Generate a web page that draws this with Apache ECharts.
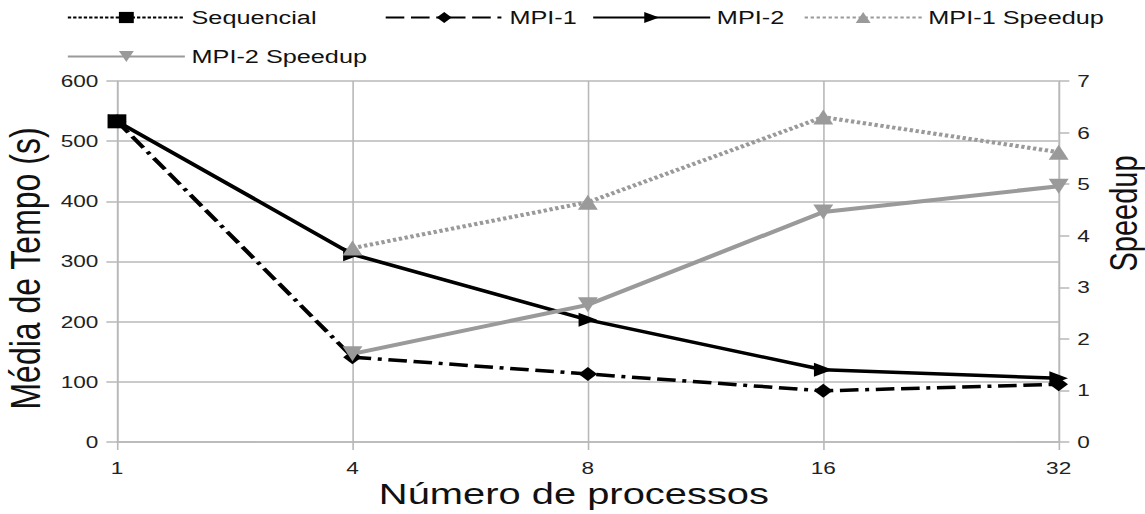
<!DOCTYPE html>
<html><head><meta charset="utf-8">
<script src="https://cdn.jsdelivr.net/npm/echarts@6/dist/echarts.min.js"></script>
<style>
html,body{margin:0;padding:0;background:#fff;overflow:hidden;width:1145px;height:514px}
#c{width:861px;height:514px;transform:scaleX(1.33);transform-origin:0 0}
</style>
</head><body><div id="c"></div>
<script>
const categories = ['1', '4', '8', '16', '32'];
const sequencial = [533, null, null, null, null];
const mpi1 = [533, 141, 113, 85, 96];
const mpi2 = [533, 312, 203, 120, 106];
const mpi1Speedup = [null, 3.76, 4.65, 6.30, 5.62];
const mpi2Speedup = [null, 1.71, 2.66, 4.46, 4.96];
const timeTicks = [0, 600, 100];
const speedupTicks = [0, 7, 1];

const font = 'Liberation Sans, Arial, sans-serif';
const gridColor = '#b8b8b8';
const gray = '#9a9a9a';

const chart = echarts.init(document.getElementById('c'), null, {renderer: 'svg'});
function lg(name, left, top) {
  return {data: [name], left: left, top: top, itemWidth: 88, itemHeight: 14, itemGap: 0,
    textStyle: {fontFamily: font, fontSize: 19, color: '#111'}, padding: 0};
}
chart.setOption({
  animation: false,
  legend: [
    lg('Sequencial', 50, 8),
    lg('MPI-1', 289, 8),
    lg('MPI-2', 445, 8),
    lg('MPI-1 Speedup', 604, 8),
    lg('MPI-2 Speedup', 50, 47)
  ],
  grid: {left: 88, right: 65, top: 81, bottom: 72, outerBoundsMode: 'none', containLabel: false},
  xAxis: {
    type: 'category', data: categories, boundaryGap: false,
    name: 'Número de processos', nameLocation: 'middle', nameGap: 36, nameMoveOverlap: false,
    nameTextStyle: {fontFamily: font, fontSize: 30, color: '#111', padding: [0, 21, 0, 0]},
    axisLine: {lineStyle: {color: gridColor, width: 1.5}},
    axisTick: {show: true, length: 8, lineStyle: {color: gridColor, width: 1.2}, alignWithLabel: true},
    axisLabel: {fontFamily: font, fontSize: 17, color: '#222', margin: 18},
    splitLine: {show: true, lineStyle: {color: gridColor, width: 1.2}}
  },
  yAxis: [{
    type: 'value', min: timeTicks[0], max: timeTicks[1], interval: timeTicks[2],
    name: 'Média de Tempo (s)', nameLocation: 'middle', nameGap: 51, nameRotate: 90,
    nameTextStyle: {fontFamily: font, fontSize: 32, color: '#111', padding: [0, 14, 0, 0]},
    axisLine: {show: true, lineStyle: {color: gridColor, width: 1.2}},
    axisTick: {show: true, length: 8, lineStyle: {color: gridColor, width: 1.5}},
    axisLabel: {fontFamily: font, fontSize: 17, color: '#222', margin: 14},
    splitLine: {show: true, lineStyle: {color: gridColor, width: 1.5}}
  }, {
    type: 'value', min: speedupTicks[0], max: speedupTicks[1], interval: speedupTicks[2], position: 'right',
    name: 'Speedup', nameLocation: 'middle', nameGap: 27, nameRotate: 90,
    nameTextStyle: {fontFamily: font, fontSize: 29, color: '#111', padding: [0, 0, 0, 96]},
    axisLine: {show: true, lineStyle: {color: gridColor, width: 1.2}},
    axisTick: {show: true, length: 8, lineStyle: {color: gridColor, width: 1.5}},
    axisLabel: {fontFamily: font, fontSize: 17, color: '#222', margin: 14},
    splitLine: {show: false}
  }],
  series: [
    {name: 'Sequencial', type: 'line', data: sequencial,
     symbol: 'rect', symbolSize: 14, itemStyle: {color: '#000'},
     lineStyle: {color: '#000', width: 3, type: [2.5, 1.5]}},
    {name: 'MPI-1', type: 'line', data: mpi1,
     symbol: 'diamond', symbolSize: 14, itemStyle: {color: '#000'},
     lineStyle: {color: '#000', width: 3.5, type: [14, 5, 14, 5, 3, 5]}},
    {name: 'MPI-2', type: 'line', data: mpi2,
     symbol: 'triangle', symbolRotate: -90, symbolSize: 14, itemStyle: {color: '#000'},
     lineStyle: {color: '#000', width: 3.5}},
    {name: 'MPI-1 Speedup', type: 'line', yAxisIndex: 1, data: mpi1Speedup,
     symbol: 'triangle', symbolSize: 15, itemStyle: {color: gray},
     lineStyle: {color: gray, width: 4, type: [2.5, 2]}},
    {name: 'MPI-2 Speedup', type: 'line', yAxisIndex: 1, data: mpi2Speedup,
     symbol: 'triangle', symbolRotate: 180, symbolSize: 15, itemStyle: {color: gray},
     lineStyle: {color: gray, width: 4}}
  ]
});
</script></body></html>
